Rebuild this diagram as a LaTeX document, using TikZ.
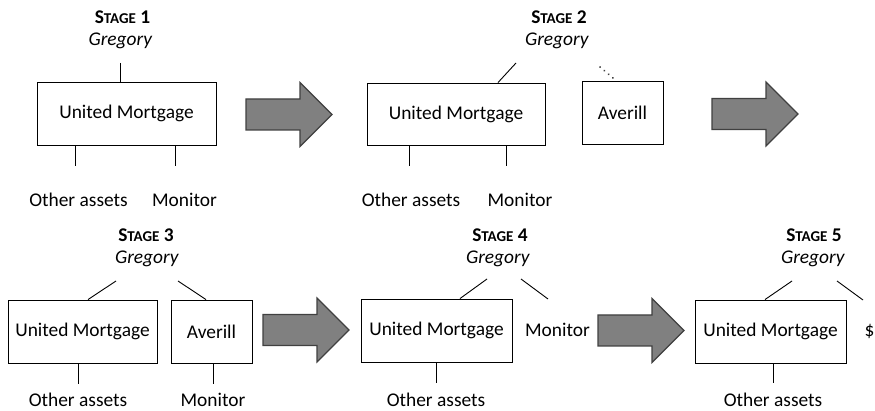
\documentclass[tikz,border=0pt]{standalone}
\usepackage{fontspec}
\setmainfont{Carlito}
\newcommand{\stagename}[1]{\textbf{S{\fontsize{15}{18}\selectfont TAGE} #1}}
\begin{document}
\begin{tikzpicture}[x=1pt,y=-1pt,
    font=\fontsize{19.4}{23}\selectfont,
    box/.style={draw,rectangle,line width=0.9pt,minimum height=63pt,inner sep=0pt},
    lbl/.style={anchor=base,inner sep=0pt},
    stem/.style={line width=0.9pt},
    fatarrow/.style={draw=black!75,fill=black!50,line width=1.2pt,line join=miter}]
                \useasboundingbox (0,0) rectangle (875,411);
                % stage 1
                \node[lbl] (st1) at (122.5,24) {\stagename{1}};
                \node[lbl] (gr1) at (120.5,45.5) {\textit{Gregory}};
                \node[box,minimum width=179pt] (um1) at (126.5,113.5) {United Mortgage};
                \node[lbl] (oa1) at (78.5,207) {Other assets};
                \node[lbl] (mo1) at (184.5,207) {Monitor};
                \coordinate (t1) at (120,63);
                \coordinate (b1a) at (75,166);
                \coordinate (b1b) at (175,166);
                \draw[stem] (t1)--(t1 |- um1.north);
                \draw[stem] (b1a |- um1.south)--(b1a);
                \draw[stem] (b1b |- um1.south)--(b1b);
                % stage 2
                \node[lbl] (st2) at (559,24) {\stagename{2}};
                \node[lbl] (gr2) at (557,45.5) {\textit{Gregory}};
                \node[box,minimum width=178pt,minimum height=62pt] (um2) at (456,114) {United Mortgage};
                \node[box,minimum width=81pt] (av2) at (622.5,112.5) {Averill};
                \node[lbl] (oa2) at (411,207) {Other assets};
                \node[lbl] (mo2) at (520,207) {Monitor};
                \coordinate (t2a) at (516,63);
                \coordinate (t2b) at (600,67);
                \coordinate (b2a) at (409,166);
                \coordinate (b2b) at (506,166);
                \draw[stem] (t2a)--([xshift=42pt]um2.north);
                \draw[line width=2pt,black!75,line cap=round,dash pattern=on 0.1pt off 5.5pt] (t2b)--([xshift=-6.5pt]av2.north);
                \draw[stem] (b2a |- um2.south)--(b2a);
                \draw[stem] (b2b |- um2.south)--(b2b);
                % stage 3
                \node[lbl] (st3) at (146,242) {\stagename{3}};
                \node[lbl] (gr3) at (147,264) {\textit{Gregory}};
                \node[box,minimum width=149pt] (um3) at (82.5,331.5) {United Mortgage};
                \node[box,minimum width=81pt] (av3) at (211.5,331.5) {Averill};
                \node[lbl] (oa3) at (78,406.5) {Other assets};
                \node[lbl] (mo3) at (213,406.5) {Monitor};
                \coordinate (t3a) at (116,281);
                \coordinate (t3b) at (178,281);
                \coordinate (b3a) at (78,384);
                \coordinate (b3b) at (213,384);
                \draw[stem] (t3a)--([xshift=5.5pt]um3.north);
                \draw[stem] (t3b)--([xshift=-5.5pt]av3.north);
                \draw[stem] (b3a |- um3.south)--(b3a);
                \draw[stem] (b3b |- av3.south)--(b3b);
                % stage 4
                \node[lbl] (st4) at (500,242) {\stagename{4}};
                \node[lbl] (gr4) at (498,264) {\textit{Gregory}};
                \node[box,minimum width=151pt] (um4) at (436.5,330.5) {United Mortgage};
                \node[lbl] (oa4) at (436,406.5) {Other assets};
                \node[lbl] (mo4) at (557.5,337) {Monitor};
                \coordinate (t4a) at (487,279);
                \coordinate (t4b) at (521,279);
                \coordinate (e4) at (548,299);
                \coordinate (b4) at (436,383);
                \draw[stem] (t4a)--([xshift=23.5pt]um4.north);
                \draw[stem] (t4b)--(e4);
                \draw[stem] (b4 |- um4.south)--(b4);
                % stage 5
                \node[lbl] (st5) at (814,242) {\stagename{5}};
                \node[lbl] (gr5) at (813,264) {\textit{Gregory}};
                \node[box,minimum width=151pt] (um5) at (770.5,331.5) {United Mortgage};
                \node[lbl] (oa5) at (773,406.5) {Other assets};
                \node[lbl,anchor=base west] (ca5) at (864.5,337) {\$};
                \coordinate (t5a) at (792,281);
                \coordinate (t5b) at (837,281);
                \coordinate (e5) at (863,300);
                \coordinate (b5) at (773,383);
                \draw[stem] (t5a)--([xshift=-5.5pt]um5.north);
                \draw[stem] (t5b)--(e5);
                \draw[stem] (b5 |- um5.south)--(b5);
                % arrows between stages
                \foreach \ax/\ay in {246/114.5,712/114,263/330,598/330.5}
                    \draw[fatarrow] (\ax,\ay) ++(0,-15.5) -- ++(54,0) -- ++(0,-16.5) -- ++(32,32)
                        -- ++(-32,32) -- ++(0,-16.5) -- ++(-54,0) -- cycle;
            \end{tikzpicture}
\end{document}
